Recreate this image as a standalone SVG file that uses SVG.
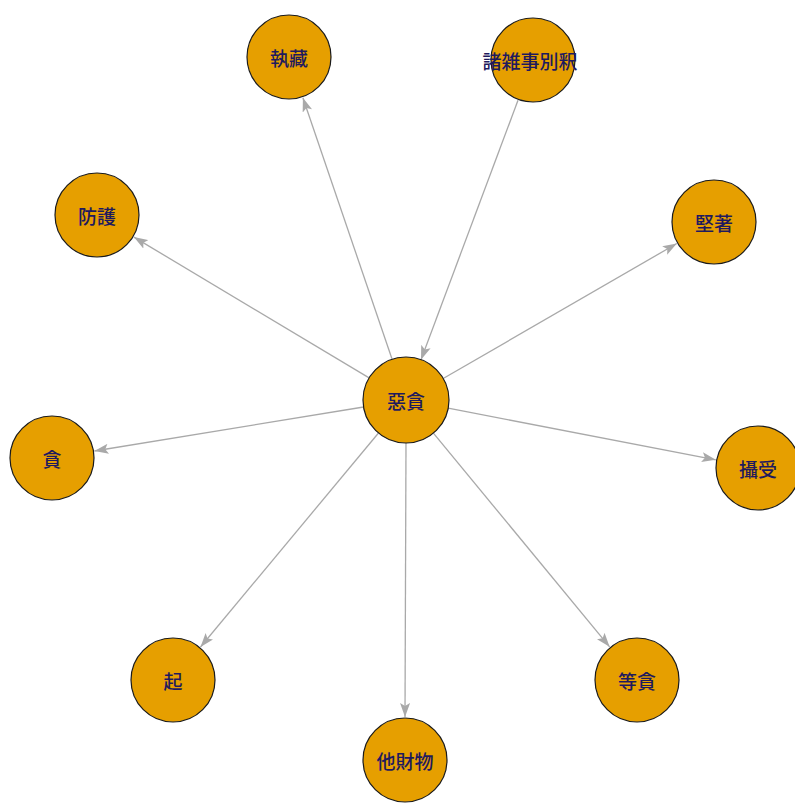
<svg xmlns="http://www.w3.org/2000/svg" width="795" height="805" viewBox="0 0 795 805">
<style>
.edge{stroke:#a9a9a9;stroke-width:1.3;fill:none;marker-end:url(#arr)}
.node circle{fill:#E69F00;stroke:#1a1a1a;stroke-width:1.2}
.node text{font-family:"Noto Sans CJK JP","Noto Sans CJK TC",sans-serif;font-size:19px;font-weight:500;fill:#1f1a5e;text-anchor:middle;dominant-baseline:central}
</style>
<defs>
<marker id="arr" viewBox="0 0 14 10" refX="14" refY="5" markerWidth="14" markerHeight="10" markerUnits="userSpaceOnUse" orient="auto">
<path d="M0,0 L14,5 L0,10 L3,5 Z" fill="#a9a9a9"/>
</marker>
</defs>
<rect width="795" height="805" fill="#ffffff"/>
<g id="edges">
<line class="edge" x1="392.1" y1="359.3" x2="302.9" y2="97.7"/>
<line class="edge" x1="518" y1="100.3" x2="421" y2="359.7"/>
<line class="edge" x1="369.1" y1="377.9" x2="133.9" y2="237.1"/>
<line class="edge" x1="443.2" y1="378.5" x2="676.8" y2="243.5"/>
<line class="edge" x1="363.6" y1="407" x2="94.4" y2="451"/>
<line class="edge" x1="448.2" y1="408.2" x2="715.8" y2="459.8"/>
<line class="edge" x1="378.5" y1="433" x2="200.5" y2="647"/>
<line class="edge" x1="433.4" y1="433.2" x2="609.6" y2="646.8"/>
<line class="edge" x1="406" y1="443" x2="405" y2="717"/>
</g>
<g id="n-center" class="node"><circle cx="406" cy="400" r="43"/><text x="406" y="400">惡貪</text></g>
<g id="n-zhizang" class="node"><circle cx="289" cy="57" r="42"/><text x="289" y="57">執藏</text></g>
<g id="n-zhuza" class="node"><circle cx="533" cy="60" r="42"/><text x="530" y="60">諸雑事別釈</text></g>
<g id="n-fanghu" class="node"><circle cx="97" cy="215" r="42"/><text x="97" y="215">防護</text></g>
<g id="n-jianzhu" class="node"><circle cx="714" cy="222" r="42"/><text x="714" y="222">堅著</text></g>
<g id="n-tan" class="node"><circle cx="52" cy="458" r="42"/><text x="52" y="458">貪</text></g>
<g id="n-sheshou" class="node"><circle cx="758" cy="468" r="42"/><text x="758" y="468">攝受</text></g>
<g id="n-qi" class="node"><circle cx="173" cy="680" r="42"/><text x="173" y="680">起</text></g>
<g id="n-dengtan" class="node"><circle cx="637" cy="680" r="42"/><text x="637" y="680">等貪</text></g>
<g id="n-tacaiwu" class="node"><circle cx="405" cy="760" r="42"/><text x="405" y="760">他財物</text></g>
</svg>
